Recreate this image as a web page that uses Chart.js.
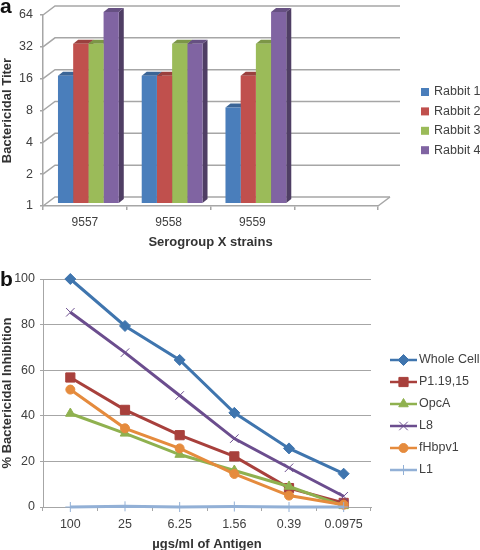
<!DOCTYPE html>
<html>
<head>
<meta charset="utf-8">
<script src="https://cdn.jsdelivr.net/npm/chart.js@4"></script>
<style>
  html, body { margin: 0; background: #fff; }
  #page { position: relative; width: 480px; height: 550px; overflow: hidden; }
  canvas { position: absolute; left: 0; }
  .tag { position: absolute; left: 0; font: bold 21px "Liberation Sans", sans-serif; color: #111; line-height: 22px; }
</style>
</head>
<body>
<div id="page">
  <div style="position:absolute;left:0;top:0;width:480px;height:250px"><canvas id="chartA" style="top:0"></canvas></div>
  <div style="position:absolute;left:0;top:260px;width:480px;height:290px"><canvas id="chartB" style="top:0"></canvas></div>
  <div class="tag" style="top:-5px">a</div>
  <div class="tag" style="top:268px">b</div>
</div>
<script>
const strains = ['9557', '9558', '9559', ''];
const titerTicks = [1, 2, 4, 8, 16, 32, 64];
const rabbit1 = [16, 16, 8];
const rabbit2 = [32, 16, 16];
const rabbit3 = [32, 32, 32];
const rabbit4 = [64, 32, 64];

const doses = ['100', '25', '6.25', '1.56', '0.39', '0.0975'];
const wholeCell = [100, 79.4, 64.5, 41.3, 25.7, 14.6];
const p1 = [56.8, 42.6, 31.5, 22.2, 8.3, 1.8];
const opcA = [41, 32.3, 23, 16, 9, 0.5];
const l8 = [85.4, 67.7, 48.9, 30, 17.2, 4.7];
const fHbpv1 = [51.5, 34.5, 25.7, 14.5, 5, 1];
const l1 = [0, 0.3, 0, 0.2, 0, 0];

const FONT = '"Liberation Sans", Arial, sans-serif';
const AXIS = '#a6a6a6';
const TEXT = '#404040';
Chart.defaults.font.family = FONT;
Chart.defaults.color = TEXT;

// walls, floor and the 3d sides of the bars
const depth = { dx: 12, dy: -9 };
const barShift = { dx: 3.5, dy: -3 };
const barSide = { dx: 5, dy: -4 };

const shade = (hex, f) => {
  const n = parseInt(hex.slice(1), 16);
  const c = [n >> 16, (n >> 8) & 255, n & 255].map(v => Math.round(v * f));
  return `rgb(${c.join(',')})`;
};

const box3d = {
  id: 'box3d',
  beforeDatasetsDraw(chart) {
    const { ctx, chartArea: area, scales: { y } } = chart;
    ctx.save();
    ctx.strokeStyle = AXIS;
    ctx.lineWidth = 1.5;
    titerTicks.forEach(t => {
      const py = y.getPixelForValue(t);
      ctx.beginPath();
      ctx.moveTo(area.left, py);
      ctx.lineTo(area.left + depth.dx, py + depth.dy);
      ctx.lineTo(t === 1 ? area.right + depth.dx : 400, py + depth.dy);
      ctx.stroke();
    });
    ctx.beginPath();
    ctx.moveTo(area.right, area.bottom);
    ctx.lineTo(area.right + depth.dx, area.bottom + depth.dy);
    ctx.stroke();
    ctx.restore();

    ctx.save();
    ctx.translate(barShift.dx, barShift.dy);
    chart.data.datasets.forEach((ds, i) => {
      chart.getDatasetMeta(i).data.forEach(bar => {
        const l = bar.x - bar.width / 2, r = bar.x + bar.width / 2;
        ctx.fillStyle = shade(ds.backgroundColor, 0.62);
        ctx.beginPath();
        ctx.moveTo(r, bar.y);
        ctx.lineTo(r + barSide.dx, bar.y + barSide.dy);
        ctx.lineTo(r + barSide.dx, bar.base + barSide.dy);
        ctx.lineTo(r, bar.base);
        ctx.fill();
        ctx.fillStyle = shade(ds.backgroundColor, 0.8);
        ctx.beginPath();
        ctx.moveTo(l, bar.y);
        ctx.lineTo(l + barSide.dx, bar.y + barSide.dy);
        ctx.lineTo(r + barSide.dx, bar.y + barSide.dy);
        ctx.lineTo(r, bar.y);
        ctx.fill();
      });
    });
  },
  afterDatasetsDraw(chart) {
    chart.ctx.restore();
  }
};

const sideLegend = {
  id: 'sideLegend',
  afterDraw(chart, args, opts) {
    const { ctx } = chart;
    ctx.save();
    ctx.font = `12.5px ${FONT}`;
    ctx.textBaseline = 'middle';
    chart.data.datasets.forEach((ds, i) => {
      const y = opts.top + i * opts.step;
      if (opts.swatch) {
        ctx.fillStyle = ds.backgroundColor;
        ctx.fillRect(opts.left, y - 4, 8, 8);
      } else {
        ctx.strokeStyle = ds.borderColor;
        ctx.fillStyle = ds.borderColor;
        ctx.lineWidth = 2.5;
        ctx.beginPath();
        ctx.moveTo(opts.left, y);
        ctx.lineTo(opts.left + 27, y);
        ctx.stroke();
        ctx.lineWidth = 1;
        Chart.helpers.drawPoint(ctx, {
          pointStyle: ds.pointStyle,
          radius: ds.pointRadius,
          borderWidth: 1
        }, opts.left + 13.5, y);
      }
      ctx.fillStyle = TEXT;
      ctx.fillText(ds.label, opts.textLeft, y);
    });
    ctx.restore();
  }
};

const fixSize = (w, h) => scale => {
  if (w) scale.width = w;
  if (h) scale.height = h;
};

new Chart(document.getElementById('chartA'), {
  type: 'bar',
  data: {
    labels: strains,
    datasets: [
      { label: 'Rabbit 1', data: rabbit1, backgroundColor: '#4a7ebb' },
      { label: 'Rabbit 2', data: rabbit2, backgroundColor: '#c0504d' },
      { label: 'Rabbit 3', data: rabbit3, backgroundColor: '#9bbb59' },
      { label: 'Rabbit 4', data: rabbit4, backgroundColor: '#8064a2' }
    ].map(ds => ({ ...ds, clip: false, barPercentage: 1, categoryPercentage: 0.726 }))
  },
  options: {
    responsive: true,
    maintainAspectRatio: false,
    animation: false,
    layout: { padding: { top: 15, right: 102, left: 0, bottom: 0 } },
    plugins: {
      legend: { display: false },
      tooltip: { enabled: false },
      sideLegend: { swatch: true, left: 421, textLeft: 434, top: 92, step: 19.4 }
    },
    scales: {
      x: {
        afterFit: fixSize(0, 44),
        grid: { drawOnChartArea: false, color: AXIS, tickLength: 4, lineWidth: 1.5 },
        border: { color: AXIS, width: 1.5 },
        ticks: { font: { size: 12 }, color: TEXT, padding: 5, maxRotation: 0 },
        title: { display: true, text: 'Serogroup X strains', color: '#333', font: { size: 13, weight: 'bold' }, padding: { top: 4, bottom: 0 } }
      },
      y: {
        type: 'logarithmic',
        min: 1,
        max: 64,
        afterFit: fixSize(43, 0),
        afterBuildTicks: scale => { scale.ticks = titerTicks.map(value => ({ value, major: true })); },
        grid: { drawOnChartArea: false, color: AXIS, tickLength: 3, lineWidth: 1.5 },
        border: { color: AXIS, width: 1.5 },
        ticks: { font: { size: 12.5 }, color: TEXT, padding: 7, autoSkip: false, callback: v => String(v) },
        title: { display: true, text: 'Bactericidal Titer', color: '#333', font: { size: 13, weight: 'bold' }, padding: 0 }
      }
    }
  },
  plugins: [box3d, sideLegend]
});

const lineSeries = [
  { label: 'Whole Cell', data: wholeCell, color: '#3f75ae', style: 'rectRot', size: 5.5 },
  { label: 'P1.19,15', data: p1, color: '#a8403c', style: 'rect', size: 6.5 },
  { label: 'OpcA', data: opcA, color: '#8fb14f', style: 'triangle', size: 5.5 },
  { label: 'L8', data: l8, color: '#6b4d8e', style: 'crossRot', size: 6 },
  { label: 'fHbpv1', data: fHbpv1, color: '#e58b3d', style: 'circle', size: 4.5 },
  { label: 'L1', data: l1, color: '#92b0d6', style: 'cross', size: 5 }
];

new Chart(document.getElementById('chartB'), {
  type: 'line',
  data: {
    labels: doses,
    datasets: lineSeries.map((s, i) => ({
      label: s.label,
      data: s.data,
      order: -i,
      clip: false,
      tension: 0,
      borderColor: s.color,
      borderWidth: 3,
      backgroundColor: s.color,
      pointStyle: s.style,
      pointRadius: s.size,
      pointBackgroundColor: s.color,
      pointBorderColor: s.color,
      pointBorderWidth: 1
    }))
  },
  options: {
    responsive: true,
    maintainAspectRatio: false,
    animation: false,
    layout: { padding: { top: 19, right: 109, left: 0, bottom: 0 } },
    plugins: {
      legend: { display: false },
      tooltip: { enabled: false },
      sideLegend: { swatch: false, left: 390, textLeft: 419, top: 100, step: 22 }
    },
    scales: {
      x: {
        offset: true,
        afterFit: fixSize(0, 43),
        grid: { offset: true, drawOnChartArea: false, color: AXIS, tickLength: 4, lineWidth: 1 },
        border: { color: AXIS, width: 1 },
        ticks: { font: { size: 12.5 }, color: TEXT, padding: 6, maxRotation: 0, autoSkip: false },
        title: { display: true, text: 'µgs/ml of Antigen', color: '#333', font: { size: 13, weight: 'bold' }, padding: { top: 4, bottom: -2 } }
      },
      y: {
        min: 0,
        max: 100,
        afterFit: fixSize(43, 0),
        grid: { color: AXIS, tickLength: 3, lineWidth: 1 },
        border: { color: AXIS, width: 1 },
        ticks: { stepSize: 20, font: { size: 12.5 }, color: TEXT, padding: 5 },
        title: { display: true, text: '% Bactericidal Inhibition', color: '#333', font: { size: 13, weight: 'bold' }, padding: 0 }
      }
    }
  },
  plugins: [sideLegend]
});
</script>
</body>
</html>
